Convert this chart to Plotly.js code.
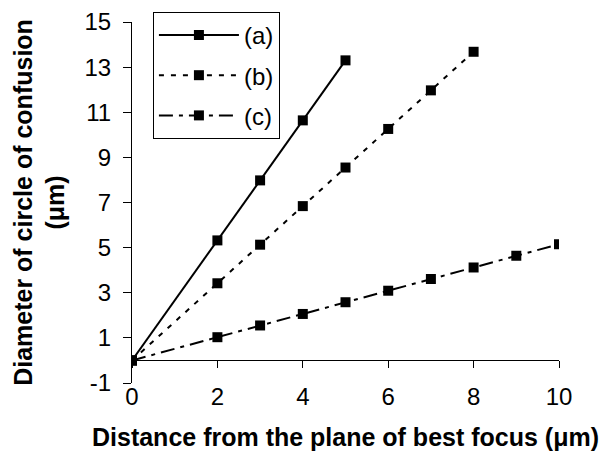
<!DOCTYPE html>
<html>
<head>
<meta charset="utf-8">
<script src="https://cdn.plot.ly/plotly-3.0.1.min.js"></script>
<style>html,body{margin:0;padding:0;background:#fff;}#chart{width:603px;height:453px;}</style>
</head>
<body>
<div id="chart"></div>
<script>
const xA = [0, 2, 3, 4, 5];
const yA = [0, 5.32, 7.98, 10.64, 13.3];
const xB = [0, 2, 3, 4, 5, 6, 7, 8];
const yB = [0, 3.42, 5.13, 6.84, 8.55, 10.26, 11.97, 13.68];
const xC = [0, 2, 3, 4, 5, 6, 7, 8, 9, 10];
const yC = [0, 1.03, 1.55, 2.06, 2.58, 3.09, 3.61, 4.12, 4.64, 5.15];
const names = ['(a)', '(b)', '(c)'];
const yTickVals = [-1, 1, 3, 5, 7, 9, 11, 13, 15];
const yTickText = ['-1', '1', '3', '5', '7', '9', '11', '13', '15'];
const xTickVals = [0, 2, 4, 6, 8, 10];

const font = 'Arial, "Liberation Sans", sans-serif';
function tr(x, y, name, dash, grp) {
  return {
    x: x, y: y, name: name, type: 'scatter', mode: 'lines+markers',
    legendgroup: grp,
    line: {color: '#000', width: 2, dash: dash},
    marker: {symbol: 'square', size: 10, color: '#000'}
  };
}
const data = [
  tr(xA, yA, names[0], 'solid', 'a'),
  tr(xB, yB, names[1], '5px,7px', 'b'),
  tr(xC, yC, names[2], '14px,6px,4px,6px', 'c')
];
const layout = {
  width: 603, height: 453,
  margin: {l: 132, r: 44, t: 19, b: 70},
  paper_bgcolor: '#fff', plot_bgcolor: '#fff',
  font: {family: font, color: '#000', size: 24},
  showlegend: true,
  legend: {
    x: 0.049, y: 1.028, xanchor: 'left', yanchor: 'top',
    bgcolor: '#fff', bordercolor: '#000', borderwidth: 1,
    font: {family: font, size: 24, color: '#000'},
    traceorder: 'grouped', tracegroupgap: 6, itemwidth: 80
  },
  xaxis: {
    range: [0, 10], tickvals: xTickVals,
    showgrid: false, zeroline: false,
    showline: true, linecolor: '#000', linewidth: 1,
    ticks: 'outside', ticklen: 7, tickcolor: '#000',
    anchor: 'free', position: 0.0625,
    ticklabelstandoff: 8,
    tickfont: {family: font, size: 24},
    title: {text: '<b>Distance from the plane of best focus (μm)</b>', font: {family: font, size: 25}, standoff: 19}
  },
  yaxis: {
    range: [-1, 15], tickvals: yTickVals, ticktext: yTickText,
    showgrid: false, zeroline: false,
    showline: true, linecolor: '#000', linewidth: 1,
    ticks: 'outside', ticklen: 8, tickcolor: '#000',
    ticklabelstandoff: 7,
    tickfont: {family: font, size: 24},
    title: {text: '<b>Diameter of circle of confusion<br>(μm)</b>', font: {family: font, size: 25}, standoff: 12}
  }
};
Plotly.newPlot('chart', data, layout, {displayModeBar: false, staticPlot: true});
</script>
</body>
</html>
